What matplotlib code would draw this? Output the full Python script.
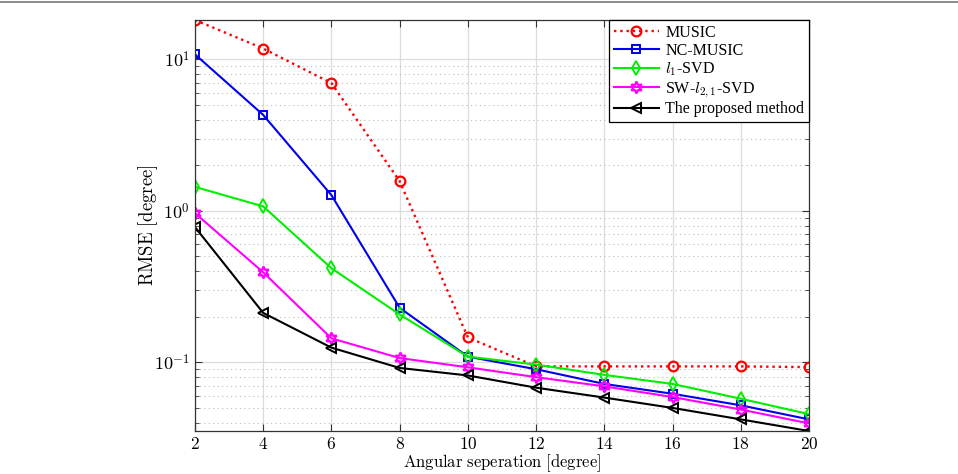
import numpy as np
import matplotlib
matplotlib.use("Agg")
import matplotlib.pyplot as plt
from matplotlib.lines import Line2D
from matplotlib.ticker import LogLocator, NullFormatter

plt.rcParams['mathtext.fontset'] = 'cm'
plt.rcParams['font.family'] = 'serif'
plt.rcParams['font.serif'] = ['Liberation Serif', 'DejaVu Serif']

# ---------------------- DATA ----------------------------
sep = [2, 4, 6, 8, 10, 12, 14, 16, 18, 20]
music    = [18.2, 11.8, 6.97, 1.57, 0.146, 0.094, 0.094, 0.094, 0.094, 0.093]
nc_music = [10.8, 4.3, 1.27, 0.229, 0.109, 0.090, 0.072, 0.062, 0.052, 0.042]
l1_svd   = [1.44, 1.07, 0.418, 0.207, 0.109, 0.0966, 0.0826, 0.072, 0.0575, 0.0455]
sw_l21   = [0.966, 0.393, 0.144, 0.1067, 0.0927, 0.0798, 0.0694, 0.059, 0.0488, 0.0395]
proposed = [0.782, 0.212, 0.125, 0.0918, 0.0819, 0.068, 0.0585, 0.050, 0.042, 0.0352]

labels = ['MUSIC', 'NC-MUSIC', r'$l_1$-SVD', r'SW-$l_{2,1}$-SVD', 'The proposed method']
xticks = [2, 4, 6, 8, 10, 12, 14, 16, 18, 20]

# ---------------------- PLOT ----------------------------
fig = plt.figure(figsize=(9.58, 4.74), dpi=100)
ax = fig.add_axes([0.2035, 0.0907, 0.641, 0.8671])

lw = 1.5
ax.plot(sep, music, ':', color='#ff0000', lw=lw + 0.2, marker='o', ms=7, mfc='none', mew=1.6, label=labels[0])
ax.plot(sep, nc_music, '-', color='#0000ee', lw=lw, marker='s', ms=6, mfc='none', mew=1.4, label=labels[1])
ax.plot(sep, l1_svd, '-', color='#00ee00', lw=lw, marker='d', ms=7.5, mfc='none', mew=1.4, label=labels[2])
ax.plot(sep, sw_l21, '-', color='#ff00ff', lw=lw, marker=(6, 1, 0), ms=8.5, mfc='none', mew=1.6, label=labels[3])
ax.plot(sep, proposed, '-', color='black', lw=lw, marker='<', ms=7.5, mfc='none', mew=1.4, label=labels[4])

ax.set_yscale('log')
ax.set_xlim(2, 20)
ax.set_ylim(min(proposed), max(music))

ax.set_xticks(xticks)
ax.set_xticklabels([r'$%d$' % v for v in xticks])
ax.set_yticks([0.1, 1, 10])
ax.set_yticklabels([r'$10^{-1}$', r'$10^{0}$', r'$10^{1}$'])
ax.yaxis.set_minor_locator(LogLocator(base=10, subs=np.arange(2, 10)))
ax.yaxis.set_minor_formatter(NullFormatter())

ax.tick_params(which='both', direction='in', top=True, right=True, labelsize=13, color='#333333')
ax.tick_params(axis='x', labelsize=12.5, pad=4)
ax.tick_params(which='major', length=5, width=0.8)
ax.tick_params(which='minor', length=3, width=0.6)

ax.grid(True, which='major', color='#dcdcdc', lw=0.9, ls='-')
ax.grid(True, which='minor', axis='y', color='#bbbbbb', lw=0.8, ls=(0, (1, 3)))
ax.set_axisbelow(True)
for s in ax.spines.values():
    s.set_color('#333333')
    s.set_linewidth(0.9)

ax.set_xlabel(r'$\mathrm{Angular\ seperation\ [degree]}$', fontsize=12, labelpad=0)
ax.set_ylabel(r'$\mathrm{RMSE\ [degree]}$', fontsize=13.5, labelpad=-4)

leg = ax.legend(loc='upper right', frameon=True, fancybox=False,
                edgecolor='black', framealpha=1, borderpad=0.3, labelspacing=0.12,
                handlelength=2.8, handletextpad=0.4, borderaxespad=0.0,
                prop={'family': ['Liberation Serif'], 'size': 11.5})
leg.get_frame().set_linewidth(0.9)

# thin page line at top
fig.add_artist(Line2D([0, 1], [1 - 1.5 / 474, 1 - 1.5 / 474], transform=fig.transFigure,
                      color='#777777', lw=1.2))

fig.savefig('out.png', dpi=100)
